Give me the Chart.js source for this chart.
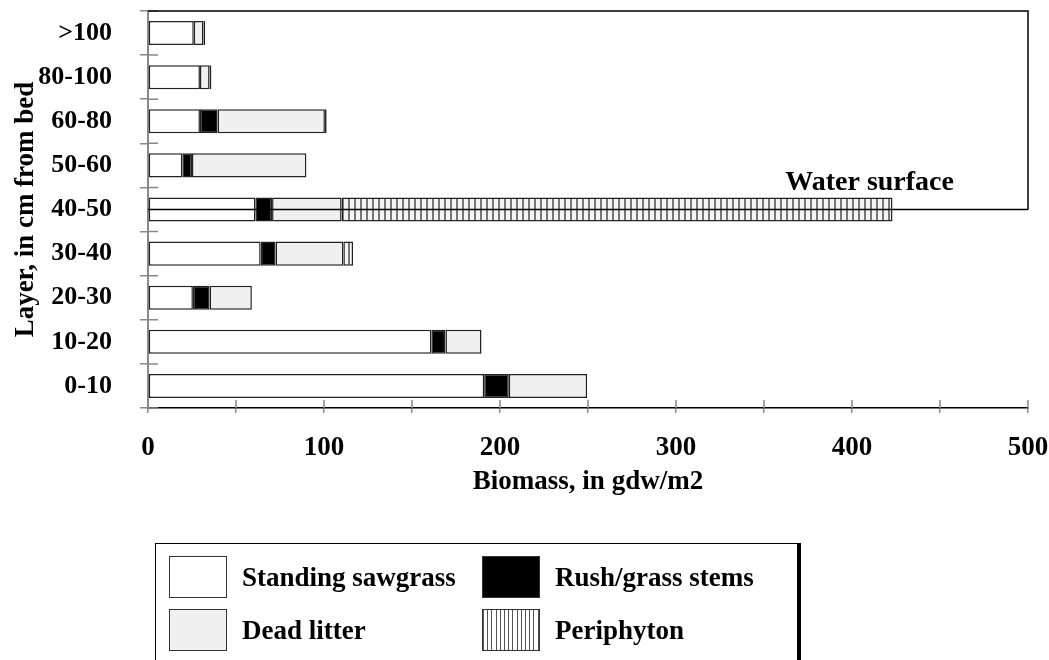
<!DOCTYPE html>
<html>
<head>
<meta charset="utf-8">
<script src="https://cdn.jsdelivr.net/npm/chart.js@4"></script>
<style>
  html, body { margin: 0; padding: 0; background: #fff; }
  #wrap { position: relative; width: 1049px; height: 660px; overflow: hidden; }
  #chart { position: absolute; left: 0; top: 0; }
  #legend {
    position: absolute; left: 155px; top: 543px; width: 643px; height: 140px;
    border: 1.5px solid #000; box-shadow: 3px 0 0 #000; background: #fff;
    display: grid; grid-template-columns: 313px 1fr; grid-auto-rows: 53px;
    padding: 12px 0 0 13px; box-sizing: border-box;
    font: bold 27px "Liberation Serif", serif; color: #000;
  }
  .item { display: flex; align-items: center; height: 42px; }
  .sw { width: 58px; height: 42px; border: 1px solid #333; margin-right: 15px; box-sizing: border-box; flex: none; }
</style>
</head>
<body>
<div id="wrap">
  <canvas id="chart" width="1049" height="660"></canvas>
  <div id="legend"></div>
</div>
<script>
// layers, top to bottom
const layers = ['>100', '80-100', '60-80', '50-60', '40-50', '30-40', '20-30', '10-20', '0-10'];
const standing = [26, 29.5, 29.5, 19.5, 61, 64, 25.5, 161, 191];
const rush = [0, 0, 10, 5.5, 9.5, 8.5, 9.5, 8, 14];
const dead = [5.5, 5.5, 61, 65, 39.5, 38.5, 24, 20.5, 44.5];
const periphyton = [1, 1, 1, 0, 313, 5.5, 0, 0, 0];
const waterLayer = '40-50';
const waterLabelAt = 410;

const font = { family: '"Liberation Serif", serif', size: 27, weight: 'bold' };

// vertical stripes for periphyton
function stripes() {
  let c = document.createElement('canvas');
  c.width = 6; c.height = 10;
  let g = c.getContext('2d');
  g.fillStyle = '#f4f4f4';
  g.fillRect(0, 0, 6, 10);
  g.fillStyle = '#777';
  g.fillRect(0, 0, 2, 10);
  return g.createPattern(c, 'repeat');
}

// keep the plot area where the axes say, not where label overhang pushes it
function noOverhang(s) {
    s.paddingLeft = 0;
    s.paddingRight = 0;
    s.paddingTop = 0;
    s.paddingBottom = 0;
}

let ctx = document.getElementById('chart').getContext('2d');

let barStyle = {
    borderColor: '#222',
    borderWidth: 1.5,
    borderSkipped: false,
    barPercentage: 0.545,
    categoryPercentage: 1,
};

let framePlugin = {
    id: 'frame',
    afterDatasetsDraw: (chart) => {
        let c = chart.ctx;
        let a = chart.chartArea;
        let x = chart.scales.x;
        let y = chart.scales.y;
        let waterY = y.getPixelForValue(layers.indexOf(waterLayer));
        c.save();
        // inner halves of the tick marks
        c.strokeStyle = '#888';
        c.lineWidth = 1.5;
        c.beginPath();
        for (let i = 0; i <= layers.length; i++) {
            let py = y.getPixelForValue(i - 0.5);
            c.moveTo(a.left, py);
            c.lineTo(a.left + 10, py);
        }
        x.ticks.forEach(t => {
            let px = x.getPixelForValue(t.value);
            c.moveTo(px, a.bottom);
            c.lineTo(px, a.bottom - 8);
        });
        c.stroke();
        // top/right frame and water line
        c.strokeStyle = '#000';
        c.beginPath();
        c.moveTo(a.left, a.top);
        c.lineTo(a.right, a.top);
        c.lineTo(a.right, waterY);
        c.moveTo(a.left, waterY);
        c.lineTo(a.right, waterY);
        c.stroke();
        c.fillStyle = '#000';
        c.font = 'bold 28px "Liberation Serif"';
        c.textAlign = 'center';
        c.fillText('Water surface', x.getPixelForValue(waterLabelAt), waterY - 20);
        c.restore();
    }
};

let chart = new Chart(ctx, {
    type: 'bar',
    data: {
        labels: layers,
        datasets: [
            { label: 'Standing sawgrass', data: standing, backgroundColor: '#ffffff', ...barStyle },
            { label: 'Rush/grass stems', data: rush, backgroundColor: '#000000', ...barStyle },
            { label: 'Dead litter', data: dead, backgroundColor: '#f0f0f0', ...barStyle },
            { label: 'Periphyton', data: periphyton, backgroundColor: stripes(), ...barStyle },
        ]
    },
    options: {
        indexAxis: 'y',
        responsive: false,
        animation: false,
        layout: { autoPadding: false, padding: { left: 0, top: 11, right: 21, bottom: 162 } },
        plugins: { legend: { display: false }, tooltip: { enabled: false } },
        scales: {
            x: {
                stacked: true, min: 0, max: 500,
                ticks: {
                    stepSize: 50, autoSkip: false, maxRotation: 0, color: '#000', font: font, padding: 19,
                    callback: v => v % 100 === 0 ? v : ''
                },
                grid: { drawOnChartArea: false, tickLength: 5, color: '#888', lineWidth: 1.5 },
                border: { color: '#000', width: 1.5 },
                title: { display: true, text: 'Biomass, in gdw/m2', color: '#000', font: font, padding: { top: 8, bottom: 0 } },
                afterFit: s => { s.height = 90; noOverhang(s); }
            },
            y: {
                stacked: true,
                ticks: { color: '#000', font: { ...font, size: 26 }, padding: 28 },
                grid: { drawOnChartArea: false, tickLength: 8, color: '#888', lineWidth: 1.5, offset: true },
                border: { color: '#888', width: 2 },
                title: { display: true, text: 'Layer, in cm from bed', color: '#000', font: font, padding: { top: 10, bottom: 0 } },
                afterFit: s => { s.width = 148; noOverhang(s); }
            }
        }
    },
    plugins: [framePlugin]
});

// legend box, two columns
const swatches = ['#ffffff', '#000000', '#f0f0f0',
    'repeating-linear-gradient(90deg, #555 0 1px, #fff 1px 4.2px)'];
let legend = document.getElementById('legend');
chart.data.datasets.forEach((ds, i) => {
    let item = document.createElement('div');
    item.className = 'item';
    let sw = document.createElement('span');
    sw.className = 'sw';
    sw.style.background = swatches[i];
    let txt = document.createElement('span');
    txt.textContent = ds.label;
    item.appendChild(sw);
    item.appendChild(txt);
    legend.appendChild(item);
});
</script>
</body>
</html>
